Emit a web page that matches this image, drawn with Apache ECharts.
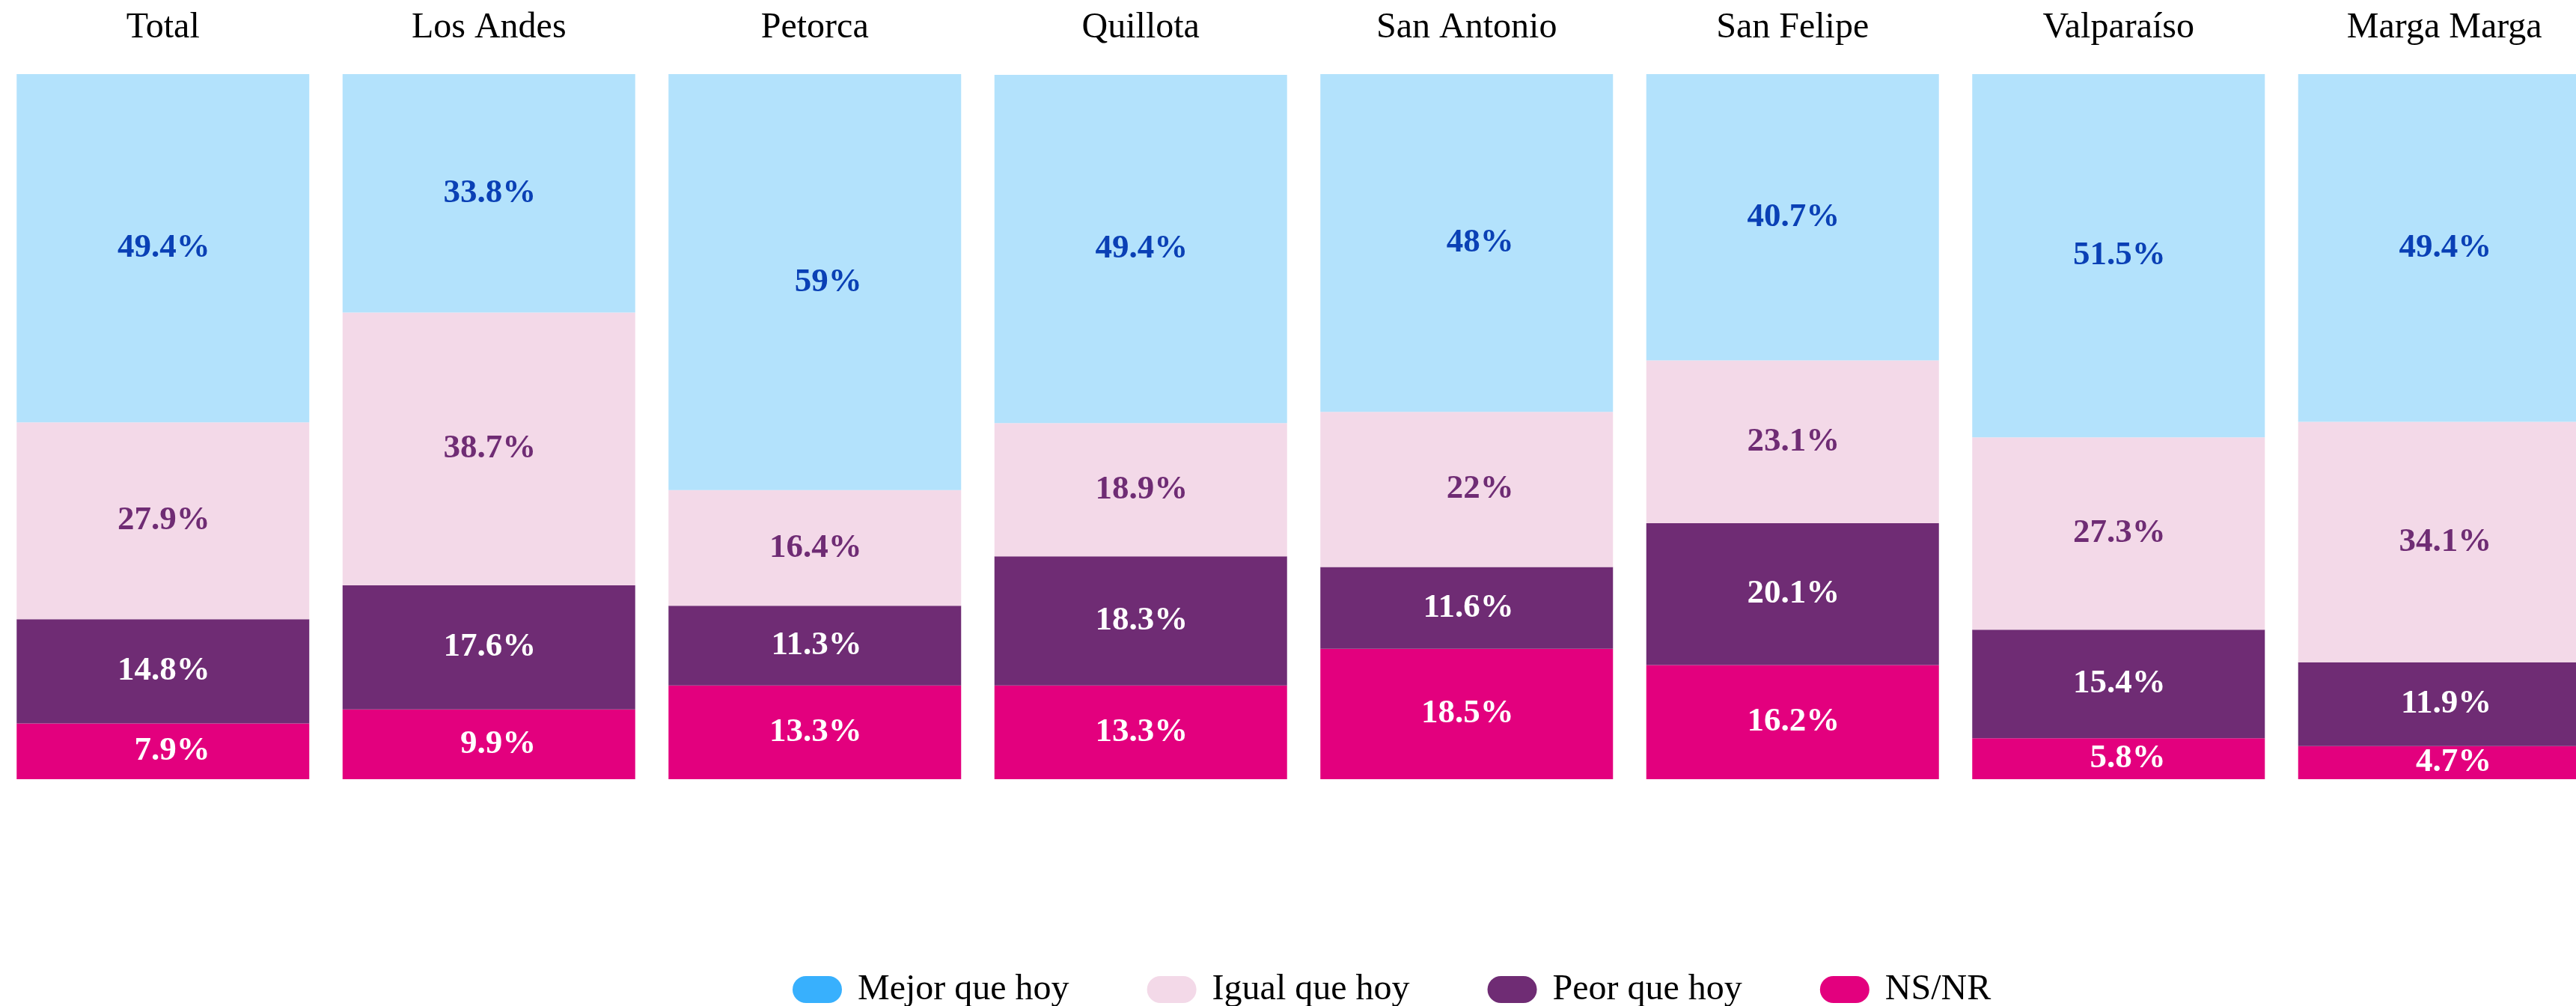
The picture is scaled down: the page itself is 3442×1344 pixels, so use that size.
<!DOCTYPE html>
<html>
<head>
<meta charset="utf-8">
<script src="https://cdn.jsdelivr.net/npm/echarts@6/dist/echarts.min.js"></script>
<style>
  html, body { margin: 0; padding: 0; background: #fff; }
  #chart { width: 3442px; height: 1344px; }
</style>
</head>
<body>
<div id="chart"></div>
<script>
var chart = echarts.init(document.getElementById('chart'));

var provinces = ['Total', 'Los Andes', 'Petorca', 'Quillota', 'San Antonio', 'San Felipe', 'Valparaíso', 'Marga Marga'];
var mejor = [49.4, 33.8, 59, 49.4, 48, 40.7, 51.5, 49.4];
var igual = [27.9, 38.7, 16.4, 18.9, 22, 23.1, 27.3, 34.1];
var peor = [14.8, 17.6, 11.3, 18.3, 11.6, 20.1, 15.4, 11.9];
var nsnr = [7.9, 9.9, 13.3, 13.3, 18.5, 16.2, 5.8, 4.7];

var fontFamily = '"Liberation Serif", "Times New Roman", serif';
var pill = 'path://M18,0 H48 A18,18 0 0 1 48,36 H18 A18,18 0 0 1 18,0 Z';

function makeSeries(name, data, color, labelColor) {
  return {
    name: name,
    type: 'bar',
    stack: 'total',
    data: data,
    barWidth: 391,
    itemStyle: { color: color },
    label: {
      show: true,
      position: 'inside',
      align: 'right',
      offset: [63, 0],
      color: labelColor,
      fontFamily: fontFamily,
      fontWeight: 'bold',
      fontSize: 45,
      formatter: p => p.value + '%'
    }
  };
}

chart.setOption({
  animation: false,
  // last panel runs past the right edge, as in the original
  grid: { left: 0, width: 3484, top: 99, bottom: 303, outerBoundsMode: 'none' },
  legend: {
    left: 1054,
    top: 1293,
    itemWidth: 66,
    itemHeight: 36,
    itemGap: 104,
    icon: pill,
    textStyle: {
      fontFamily: fontFamily,
      fontSize: 48,
      color: '#000',
      padding: [0, 0, 0, 16]
    },
    data: [
      { name: 'Mejor que hoy', itemStyle: { color: '#38B0FD' } },
      { name: 'Igual que hoy', itemStyle: { color: '#F3D9E8' } },
      { name: 'Peor que hoy', itemStyle: { color: '#6F2C74' } },
      { name: 'NS/NR', itemStyle: { color: '#E3007E' } }
    ]
  },
  xAxis: {
    type: 'category',
    position: 'top',
    data: provinces,
    axisLine: { show: false },
    axisTick: { show: false },
    axisLabel: {
      margin: 38,
      color: '#000',
      fontFamily: fontFamily,
      fontSize: 48
    }
  },
  yAxis: {
    type: 'value',
    min: 0,
    max: 100,
    show: false,
    splitLine: { show: false }
  },
  series: [
    makeSeries('NS/NR', nsnr, '#E3007E', '#fff'),
    makeSeries('Peor que hoy', peor, '#6F2C74', '#fff'),
    makeSeries('Igual que hoy', igual, '#F3D9E8', '#6F2C74'),
    makeSeries('Mejor que hoy', mejor, '#B3E2FC', '#0A40B5')
  ]
});
</script>
</body>
</html>
